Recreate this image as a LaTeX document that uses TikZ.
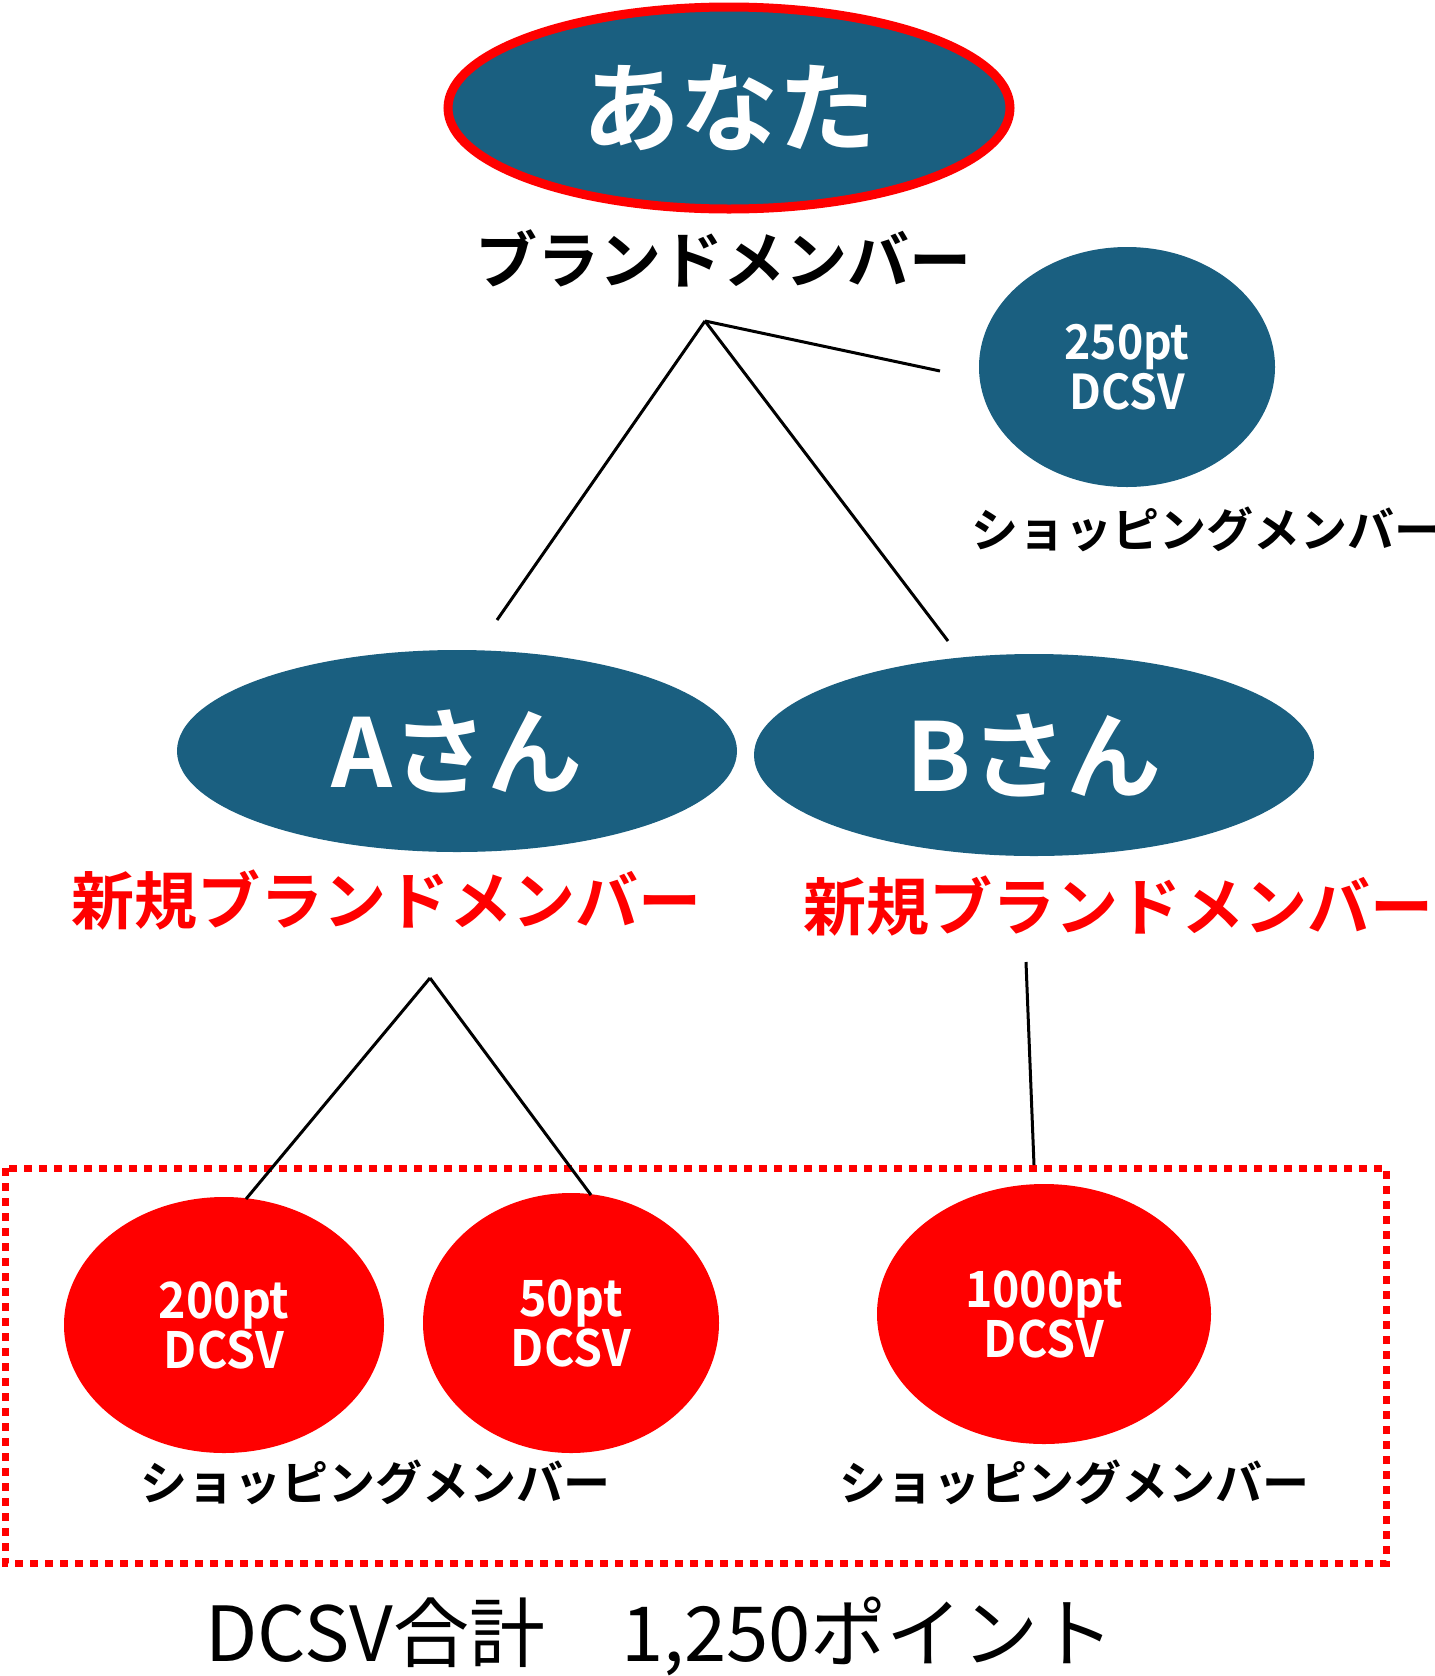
\documentclass[tikz,border=0pt]{standalone}
\usepackage{fontspec}
\setmainfont{Noto Sans CJK JP}[BoldFont=* Bold]
\newfontfamily\numfont{Noto Sans CJK JP}[BoldFont=* Bold, FakeStretch=0.93]
\usetikzlibrary{shapes.geometric}
\definecolor{memberblue}{RGB}{26,95,128}

\begin{document}
\begin{tikzpicture}[x=1pt,y=-1pt]
        \tikzstyle{member}=[ellipse,fill=memberblue,text=white,inner sep=0pt,align=center]
        \tikzstyle{shopper}=[ellipse,fill=red,text=white,inner sep=0pt,align=center,
            font=\numfont\bfseries\fontsize{50}{50}\selectfont]
        \tikzstyle{name font}=[font=\bfseries\fontsize{95}{95}\selectfont]
        \tikzstyle{points font}=[font=\numfont\bfseries\fontsize{48}{50}\selectfont]
        \tikzstyle{brand label}=[font=\bfseries\fontsize{62}{62}\selectfont]
        \tikzstyle{new label}=[text=red,font=\bfseries\fontsize{63}{63}\selectfont]
        \tikzstyle{shop label}=[font=\bfseries\fontsize{47}{47}\selectfont]
        \tikzstyle{link}=[line width=3pt]

        \useasboundingbox (0,0) rectangle (1435,1676);

        % Draw you and your own shopping member
        \node[member, draw=red, line width=9pt, minimum width=562pt, minimum height=202pt,
            font=\bfseries\fontsize{98}{98}\selectfont] (you) at (729,108) {\raisebox{4pt}{あなた}};
        \node[brand label] (you-label) at (723,258) {ブランドメンバー};
        \node[member, points font, minimum width=296pt, minimum height=240pt] (you-shop) at (1127,367) {250pt\\DCSV};
        \node[shop label, anchor=west] (you-shop-label) at (968,529) {ショッピングメンバー};

        % Draw the new brand members
        \node[member, name font, minimum width=560pt, minimum height=202pt] (a) at (457,751) {Aさん};
        \node[member, name font, minimum width=560pt, minimum height=202pt] (b) at (1034,755) {Bさん};
        \node[new label] (a-label) at (386,900) {新規ブランドメンバー};
        \node[new label] (b-label) at (1118,906) {新規ブランドメンバー};

        % Draw their shopping members
        \node[shopper, minimum width=320pt, minimum height=256pt] (a-shop-1) at (224,1325) {200pt\\DCSV};
        \node[shopper, minimum width=296pt, minimum height=260pt] (a-shop-2) at (571,1323) {50pt\\DCSV};
        \node[shopper, minimum width=334pt, minimum height=260pt] (b-shop) at (1044,1314) {1000pt\\DCSV};
        \node[shop label] (a-shop-label) at (375,1482) {ショッピングメンバー};
        \node[shop label] (b-shop-label) at (1074,1482) {ショッピングメンバー};

        % Group the shopping members
        \draw[red, line width=7pt, dash pattern=on 8pt off 7pt] (5,1168) rectangle (1386,1563);

        % Connect you with your members
        \coordinate (top-apex) at (705,321);
        \coordinate (a-top) at (497,620);
        \coordinate (b-top) at (948,641);
        \coordinate (shop-top) at (940,371);
        \foreach \dest in {a-top,b-top,shop-top}
            \draw[link] (top-apex) -- (\dest);

        % Connect A and B with their shopping members
        \coordinate (a-apex) at (430,978);
        \coordinate (a-end-1) at (246,1199);
        \coordinate (a-end-2) at (591,1195);
        \coordinate (b-apex) at (1026,962);
        \coordinate (b-end) at (1034,1165);
        \foreach \dest in {a-end-1,a-end-2}
            \draw[link] (a-apex) -- (\dest);
        \draw[link] (b-apex) -- (b-end);

        % Sum of the points
        \node[font=\fontsize{76}{76}\selectfont] (total) at (660,1636) {DCSV合計　1,250ポイント};
\end{tikzpicture}
\end{document}
